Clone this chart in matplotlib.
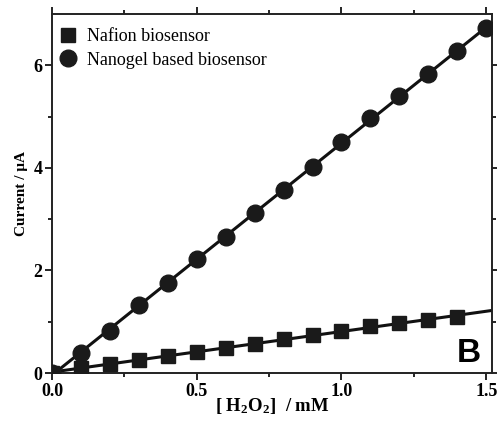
import matplotlib
matplotlib.use("Agg")
import matplotlib.pyplot as plt
import numpy as np

# ---- Data -------------------------------------------------------------
conc_nafion = [0.0, 0.1, 0.2, 0.3, 0.4, 0.5, 0.6, 0.7, 0.8, 0.9, 1.0, 1.1, 1.2, 1.3, 1.4]
curr_nafion = [0.0, 0.10, 0.18, 0.26, 0.34, 0.42, 0.48, 0.57, 0.66, 0.74, 0.82, 0.91, 0.98, 1.03, 1.10]

conc_nanogel = [0.0, 0.1, 0.2, 0.3, 0.4, 0.5, 0.6, 0.7, 0.8, 0.9, 1.0, 1.1, 1.2, 1.3, 1.4, 1.5]
curr_nanogel = [0.0, 0.40, 0.82, 1.32, 1.76, 2.22, 2.65, 3.13, 3.57, 4.01, 4.50, 4.98, 5.40, 5.83, 6.28, 6.72]

fit_range_nafion = [0.0, 1.52]
fit_range_nanogel = [0.0, 1.5]

SERIF = "Liberation Serif"
plt.rcParams["mathtext.fontset"] = "custom"
plt.rcParams["mathtext.bf"] = "Liberation Serif:bold"
plt.rcParams["mathtext.rm"] = "Liberation Serif:bold"
plt.rcParams["mathtext.it"] = "Liberation Serif:bold"

fig = plt.figure(figsize=(4.97, 4.23), dpi=100)
ax = fig.add_axes([0.1046, 0.118, 0.8854, 0.849])

# linear fits drawn under the markers
for xs, ys, rng in [(conc_nafion, curr_nafion, fit_range_nafion),
                    (conc_nanogel, curr_nanogel, fit_range_nanogel)]:
    k, b = np.polyfit(xs, ys, 1)
    xx = np.array(rng)
    ax.plot(xx, k * xx + b, color="#111111", lw=2.2, zorder=2)

ax.plot(conc_nafion, curr_nafion, ls="none", marker="s", ms=10,
        color="#1a1a1a", label="Nafion biosensor", zorder=3)
ax.plot(conc_nanogel, curr_nanogel, ls="none", marker="o", ms=12,
        color="#1a1a1a", label="Nanogel based biosensor", zorder=3)

ax.set_xlim(0, 1.52)
ax.set_ylim(0, 7.0)
ax.set_xticks([0.0, 0.5, 1.0, 1.5])
ax.set_xticks([0.25, 0.75, 1.25], minor=True)
ax.set_yticks([0, 2, 4, 6])
ax.set_yticks([1, 3, 5], minor=True)
ax.set_xticklabels(["0.0", "0.5", "1.0", "1.5"])
ax.set_yticklabels(["0", "2", "4", "6"])

for lab in ax.get_xticklabels() + ax.get_yticklabels():
    lab.set_fontfamily(SERIF)
    lab.set_fontweight("bold")
    lab.set_fontsize(13)

ax.tick_params(which="both", direction="out", top=True, right=True, width=1.2)
ax.tick_params(which="major", length=5, pad=2)
ax.tick_params(which="minor", length=3)
for sp in ax.spines.values():
    sp.set_linewidth(1.4)
    sp.set_color("#222222")

ax.set_xlabel(r"[ H$_\mathbf{2}$O$_\mathbf{2}$]  / mM", fontfamily=SERIF,
              fontweight="bold", fontsize=13.5, labelpad=-3)
ax.set_ylabel("Current / \u03bcA", fontfamily=SERIF, fontweight="bold",
              fontsize=11, labelpad=4)

leg = ax.legend(loc="upper left", bbox_to_anchor=(-0.02, 1.0), frameon=False,
                prop={"family": SERIF, "size": 13},
                handletextpad=0.4, borderaxespad=0.2, labelspacing=0.35,
                handlelength=1.2, borderpad=0.6)

ax.text(0.975, 0.03, "B", transform=ax.transAxes, ha="right", va="baseline",
        fontfamily="Liberation Sans", fontweight="bold", fontsize=24)

fig.savefig("out.png", dpi=100)
